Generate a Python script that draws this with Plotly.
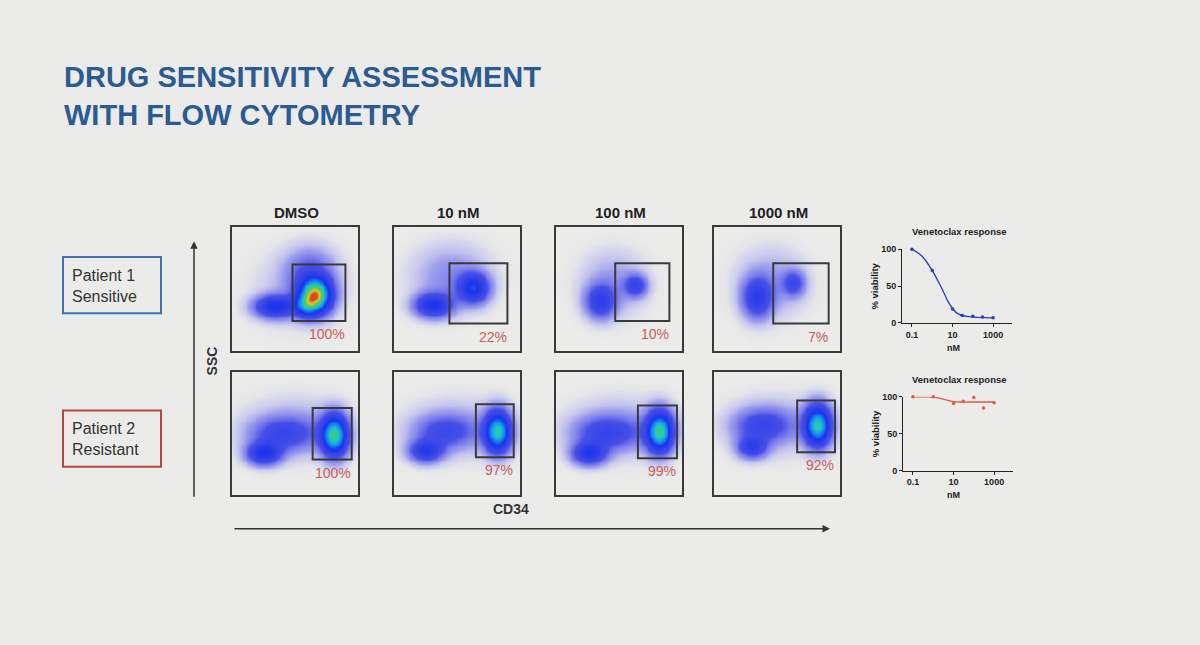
import numpy as np
import plotly.graph_objects as go

W, H = 1200, 645

# ---- data ----
doses = ["DMSO", "10 nM", "100 nM", "1000 nM"]
patients = ["Patient 1<br>Sensitive", "Patient 2<br>Resistant"]
p1_gated = ["100%", "22%", "10%", "7%"]
p2_gated = ["100%", "97%", "99%", "92%"]

# cell populations per panel: (cx, cy, sx, sy, peak density), panel units 0..1
p1_dmso = [(0.34, 0.36, 0.11, 0.06, 0.42), (0.66, 0.45, 0.085, 0.095, 0.88),
           (0.58, 0.36, 0.06, 0.06, 0.30), (0.62, 0.64, 0.13, 0.13, 0.16),
           (0.52, 0.50, 0.22, 0.20, 0.06)]
p1_10nm = [(0.31, 0.37, 0.10, 0.065, 0.40), (0.63, 0.51, 0.08, 0.08, 0.43),
           (0.45, 0.60, 0.20, 0.17, 0.11)]
p1_100nm = [(0.35, 0.40, 0.08, 0.09, 0.30), (0.63, 0.53, 0.06, 0.06, 0.26),
            (0.45, 0.55, 0.17, 0.17, 0.09)]
p1_1000nm = [(0.34, 0.43, 0.08, 0.11, 0.30), (0.63, 0.55, 0.06, 0.07, 0.22),
             (0.45, 0.55, 0.18, 0.18, 0.09)]
p2_dmso = [(0.25, 0.34, 0.09, 0.06, 0.40), (0.40, 0.50, 0.17, 0.09, 0.22),
           (0.81, 0.49, 0.07, 0.11, 0.76), (0.50, 0.55, 0.27, 0.16, 0.08)]
p2_10nm = [(0.25, 0.36, 0.09, 0.06, 0.34), (0.40, 0.52, 0.16, 0.09, 0.20),
           (0.82, 0.52, 0.07, 0.11, 0.72), (0.50, 0.55, 0.27, 0.16, 0.07)]
p2_100nm = [(0.26, 0.34, 0.09, 0.06, 0.38), (0.40, 0.51, 0.17, 0.09, 0.23),
            (0.82, 0.52, 0.07, 0.11, 0.76), (0.50, 0.55, 0.27, 0.16, 0.08)]
p2_1000nm = [(0.30, 0.39, 0.08, 0.06, 0.30), (0.38, 0.57, 0.15, 0.09, 0.23),
             (0.82, 0.57, 0.07, 0.11, 0.72), (0.50, 0.57, 0.26, 0.16, 0.07)]

# CD34+ gates per panel: (x0, x1, y0, y1), panel units
p1_gates = [(0.48, 0.90, 0.24, 0.70), (0.44, 0.90, 0.22, 0.71),
            (0.47, 0.90, 0.24, 0.71), (0.47, 0.91, 0.22, 0.71)]
p2_gates = [(0.64, 0.95, 0.29, 0.71), (0.65, 0.95, 0.31, 0.74),
            (0.65, 0.96, 0.30, 0.73), (0.66, 0.96, 0.35, 0.77)]

# venetoclax dose response
conc_nm = [0.1, 1, 10, 30, 100, 300, 1000]
p1_viability = [100, 71, 19, 10, 9, 8, 7]
p2_viability = [100, 100, 91, 94, 99, 85, 92]
p1_fit_x = [0.1, 0.3, 1, 2.7, 6, 10, 17, 50, 1000]
p1_fit_y = [100, 91, 71, 49, 29, 20, 13, 9, 7]
p2_fit_x = [0.1, 0.5, 1, 3, 10, 30, 100, 1000]
p2_fit_y = [100, 100, 99.5, 97, 93.5, 93, 93, 93]

FONT = "Liberation Sans, Arial, sans-serif"
BG = "#ebebea"


def px(x):
    return x / W


def py(y):
    return 1 - y / H


def note(x, y, text, size, color="#222222", xanchor="center", yanchor="middle", **kw):
    return dict(xref="paper", yref="paper", x=px(x), y=py(y), text=text, showarrow=False,
                xanchor=xanchor, yanchor=yanchor,
                font=dict(family=FONT, size=size, color=color), **kw)


density_scale = [
    [0.0, "rgba(235,235,234,0)"],
    [0.02, "rgba(90,90,255,0.12)"],
    [0.08, "rgba(50,50,240,0.42)"],
    [0.2, "rgba(30,40,230,0.8)"],
    [0.45, "rgb(25,50,235)"],
    [0.6, "rgb(20,140,240)"],
    [0.72, "rgb(30,200,200)"],
    [0.84, "rgb(80,200,90)"],
    [0.93, "rgb(215,205,50)"],
    [1.0, "rgb(225,70,30)"],
]

fig = go.Figure()
layout = {}
annotations = []
shapes = []

col_left = [232, 394, 556, 714]
row_top = [226, 373]
box_w, box_h = 126, 125

grid = np.linspace(0, 1, 140)
gx, gy = np.meshgrid(grid, grid)

rows = [
    ([p1_dmso, p1_10nm, p1_100nm, p1_1000nm], p1_gates, p1_gated),
    ([p2_dmso, p2_10nm, p2_100nm, p2_1000nm], p2_gates, p2_gated),
]

n = 0
for r, (pops_row, gates, gated) in enumerate(rows):
    for c in range(4):
        n += 1
        xa = "x" if n == 1 else f"x{n}"
        ya = "y" if n == 1 else f"y{n}"
        z = np.zeros_like(gx)
        for cx, cy, sx, sy, amp in pops_row[c]:
            z += amp * np.exp(-0.5 * ((gx - cx) / sx) ** 2 - 0.5 * ((gy - cy) / sy) ** 2)
        fig.add_trace(go.Heatmap(
            x=grid, y=grid, z=z, zmin=0, zmax=1, zsmooth="best",
            colorscale=density_scale, showscale=False, hoverinfo="skip",
            xaxis=xa, yaxis=ya,
        ))
        x0, y0 = col_left[c], row_top[r]
        ax_style = dict(range=[0, 1], showline=True, mirror=True, linecolor="#3a3a3a",
                        linewidth=2, showticklabels=False, ticks="", showgrid=False,
                        zeroline=False, fixedrange=True)
        layout["xaxis" if n == 1 else f"xaxis{n}"] = dict(
            domain=[px(x0), px(x0 + box_w)], anchor=ya, **ax_style)
        layout["yaxis" if n == 1 else f"yaxis{n}"] = dict(
            domain=[py(y0 + box_h), py(y0)], anchor=xa, **ax_style)
        g = gates[c]
        shapes.append(dict(type="rect", xref=xa, yref=ya, x0=g[0], x1=g[1], y0=g[2], y1=g[3],
                           line=dict(color="#3a3a3a", width=2)))
        annotations.append(dict(xref=xa, yref=ya, x=g[1] + 0.01, y=g[2] - 0.025,
                                text=gated[c], showarrow=False, xanchor="right", yanchor="top",
                                font=dict(family=FONT, size=14, color="#c8605a")))

# column headers
for c, d in enumerate(doses):
    annotations.append(note(col_left[c] + box_w / 2 + 1, 211, f"<b>{d}</b>", 15))

# dose-response panels
dose_sets = [
    (p1_viability, p1_fit_x, p1_fit_y, "#2a3cc4", 902, 248),
    (p2_viability, p2_fit_x, p2_fit_y, "#e05a45", 903, 398),
]
for k, (viab, fx, fy, color, left, top) in enumerate(dose_sets):
    n += 1
    xa, ya = f"x{n}", f"y{n}"
    fig.add_trace(go.Scatter(x=fx, y=fy, mode="lines", line=dict(color=color, width=1.3, shape="spline"),
                             xaxis=xa, yaxis=ya, hoverinfo="skip", showlegend=False))
    fig.add_trace(go.Scatter(x=conc_nm, y=viab, mode="markers", marker=dict(color=color, size=3.5),
                             xaxis=xa, yaxis=ya, cliponaxis=False, showlegend=False))
    tick_font = dict(family=FONT, size=9, color="#222222", weight="bold")
    layout[f"xaxis{n}"] = dict(domain=[px(left), px(left + 110)], anchor=ya, type="log",
                               range=[-1.49, 3.93], tickvals=[0.1, 10, 1000],
                               ticktext=["0.1", "10", "1000"], ticks="outside", ticklen=3,
                               tickcolor="#222", showline=True, linecolor="#222", linewidth=1,
                               showgrid=False, zeroline=False, tickfont=tick_font, fixedrange=True)
    layout[f"yaxis{n}"] = dict(domain=[py(top + 75), py(top)], anchor=xa, range=[0, 100],
                               tickvals=[0, 50, 100], ticks="outside", ticklen=3, tickcolor="#222",
                               showline=True, linecolor="#222", linewidth=1, showgrid=False,
                               zeroline=False, tickfont=tick_font, fixedrange=True)
    annotations.append(note(959, top - 18, "<b>Venetoclax response</b>", 9.5))
    annotations.append(note(875, top + 38, "<b>% viability</b>", 9.5, textangle=-90))
    annotations.append(note(953, top + 93, "<b>nM</b>", 9, yanchor="top"))

# patient boxes
box_colors = ["#4073ad", "#b5473f"]
box_tops = [256, 412]
for i, label in enumerate(patients):
    shapes.append(dict(type="rect", xref="paper", yref="paper", x0=px(63), x1=px(161),
                       y0=py(box_tops[i] + 57), y1=py(box_tops[i]),
                       line=dict(color=box_colors[i], width=2)))
    annotations.append(note(70, box_tops[i] + 29, label, 16, "#333333",
                            xanchor="left", align="left"))

# SSC / CD34 axis arrows
annotations.append(dict(xref="paper", yref="paper", x=px(194), y=py(240), ax=0, ay=257,
                        text="", showarrow=True, arrowhead=2, arrowsize=1, arrowwidth=1.5,
                        arrowcolor="#333333"))
annotations.append(dict(xref="paper", yref="paper", x=px(830), y=py(532), ax=-597, ay=0,
                        text="", showarrow=True, arrowhead=2, arrowsize=1, arrowwidth=1.5,
                        arrowcolor="#333333"))
annotations.append(note(212, 362, "<b>SSC</b>", 14, "#333333", textangle=-90))
annotations.append(note(511, 512, "<b>CD34</b>", 14, "#333333"))

# slide title
annotations.append(note(62, 92, "<b>DRUG SENSITIVITY ASSESSMENT<br>WITH FLOW CYTOMETRY</b>",
                        29, "#2b5b92", xanchor="left", align="left"))

fig.update_layout(
    width=W, height=H, autosize=False,
    margin=dict(l=0, r=0, t=0, b=0),
    paper_bgcolor=BG, plot_bgcolor="rgba(0,0,0,0)",
    showlegend=False, annotations=annotations, shapes=shapes,
    **layout,
)

fig.write_html("out.html", config={"displayModeBar": False},
               post_script="document.body.style.margin='0';document.body.style.background='#ebebea';")
